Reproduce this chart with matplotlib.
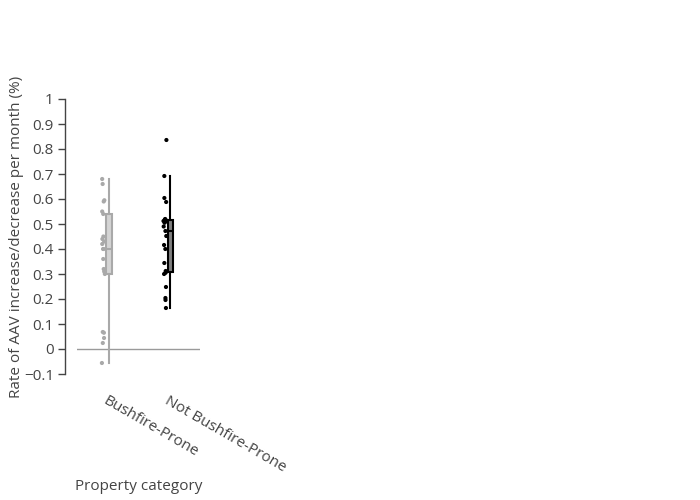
import numpy as np
import matplotlib
matplotlib.use("Agg")
import matplotlib.pyplot as plt
from matplotlib.ticker import FixedLocator, FuncFormatter

plt.rcParams['font.family'] = ['Open Sans', 'DejaVu Sans']

categories = ["Bushfire-Prone", "Not Bushfire-Prone"]
bushfire_prone = [0.68, 0.66, 0.595, 0.59, 0.55, 0.54, 0.45, 0.44, 0.43, 0.42,
                  0.40, 0.40, 0.36, 0.32, 0.31, 0.30, 0.068, 0.065, 0.044, 0.024, -0.056]
not_bushfire_prone = [0.836, 0.692, 0.604, 0.588, 0.52, 0.518, 0.515, 0.512, 0.51,
                      0.505, 0.49, 0.472, 0.452, 0.416, 0.40, 0.344, 0.312, 0.305,
                      0.30, 0.248, 0.204, 0.196, 0.164]
series = [bushfire_prone, not_bushfire_prone]
line_colors = ["#a9a9a9", "#000000"]
fill_colors = ["#d4d4d4", "#7f7f7f"]
y_ticks = [-0.1, 0, 0.1, 0.2, 0.3, 0.4, 0.5, 0.6, 0.7, 0.8, 0.9, 1]

fig = plt.figure(figsize=(7, 5), dpi=100)
ax = fig.add_axes([77/700, (500-374)/500, 123/700, 275/500])

ax.axhline(0, color="#9a9a9a", lw=1, zorder=0)

rng = np.random.default_rng(3)
for i, vals in enumerate(series):
    bp = ax.boxplot([vals], positions=[i + 0.02], widths=0.09, whis=1.5,
                    showfliers=False, patch_artist=True, showcaps=False)
    for b in bp['boxes']:
        b.set_facecolor(fill_colors[i]); b.set_edgecolor(line_colors[i]); b.set_linewidth(1.5)
    for w in bp['whiskers']:
        w.set_color(line_colors[i]); w.set_linewidth(1.5)
    for m in bp['medians']:
        m.set_color(line_colors[i]); m.set_linewidth(1.5)
    jit = rng.uniform(-0.025, 0.025, len(vals))
    ax.scatter(np.full(len(vals), i - 0.07) + jit, vals, s=9, color=line_colors[i],
               edgecolors='none', zorder=3)

ax.set_xlim(-0.5, 1.5)
ax.set_ylim(-0.1, 1.0)
ax.set_xticks([0, 1])
ax.set_xticklabels(categories, rotation=-30, ha='left', va='top',
                   rotation_mode='anchor', fontsize=11, color='#444444')
ax.tick_params(axis='x', length=0, pad=14)
ax.yaxis.set_major_locator(FixedLocator(y_ticks))
def fmt(v, pos):
    if abs(v) < 1e-9:
        return "0"
    if abs(v - 1) < 1e-9:
        return "1"
    return ("%.1f" % v).replace("-", "\u2212")
ax.yaxis.set_major_formatter(FuncFormatter(fmt))
ax.tick_params(axis='y', length=5, width=1, color='#444444', labelsize=11,
               labelcolor='#444444', pad=3)

for s in ['top', 'right', 'bottom']:
    ax.spines[s].set_visible(False)
ax.spines['left'].set_position(('outward', 8.64))
ax.spines['left'].set_color('#444444')
ax.spines['left'].set_linewidth(1)

fig.text(138.5/700, 1 - 486/500, "Property category", fontsize=11, color='#444444',
         ha='center', va='center')
fig.text(17/700, 1 - 237/500, "Rate of AAV increase/decrease per month (%)", fontsize=11,
         color='#444444', ha='center', va='center', rotation=90)

fig.savefig("out.png", dpi=100)
